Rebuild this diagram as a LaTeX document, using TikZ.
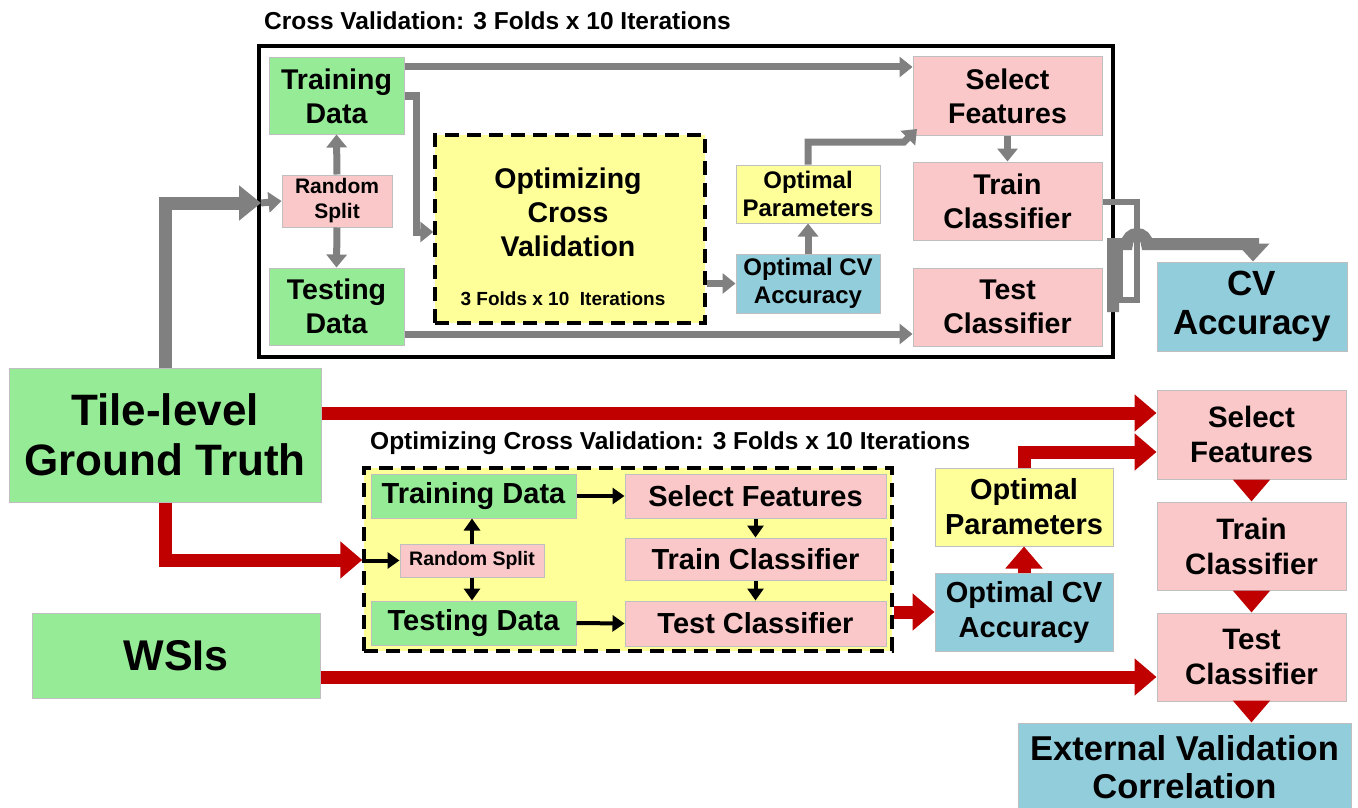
\documentclass[tikz,border=0pt]{standalone}
\usepackage{fontspec}
\setmainfont{Liberation Sans}
\usetikzlibrary{arrows.meta}
\definecolor{cgreen}{RGB}{150,236,150}
\definecolor{cpink}{RGB}{250,200,200}
\definecolor{cyellow}{RGB}{255,255,153}
\definecolor{cblue}{RGB}{146,205,220}
\definecolor{cgray}{RGB}{128,128,128}
\definecolor{cred}{RGB}{192,0,0}
\newcommand{\myf}[2]{\fontsize{#1pt}{#2pt}\selectfont\bfseries}
\begin{document}
\begin{tikzpicture}[x=1pt,y=-1pt,
  box/.style={draw=black!25, line width=1pt, inner sep=0pt, align=center},
  gbox/.style={box, fill=cgreen},
  pbox/.style={box, fill=cpink},
  ybox/.style={box, fill=cyellow},
  bbox/.style={box, fill=cblue},
  dbox/.style={draw=black, line width=3.5pt, dash pattern=on 14pt off 8pt, fill=cyellow, inner sep=0pt},
  sz/.style 2 args={minimum width=#1pt, minimum height=#2pt},
  garr/.style={draw=cgray, line width=7pt, -{Triangle[width=20pt,length=13pt]}},
  gthick/.style={draw=cgray, line width=13pt, -{Triangle[width=34pt,length=22pt]}},
  gline/.style={draw=cgray, line width=6pt},
  rarr/.style={draw=cred, line width=13pt, -{Triangle[width=36pt,length=22pt]}},
  barr/.style={draw=black, line width=4pt, -{Triangle[width=16pt,length=12pt]}},
  ttl/.style={anchor=west, inner sep=0pt, font=\myf{24.5}{28}}
]
\useasboundingbox (0,0) rectangle (1358,808);
\fill[white] (0,0) rectangle (1358,808);

% ---------- top section ----------
\node[ttl] (ttop) at (264,21) {Cross Validation: 3 Folds x 10 Iterations};
\draw[black, line width=4pt] (259,46) rectangle (1113,357);

\node[gbox, sz={135}{76}, font=\myf{28.5}{34}] (trT) at (336.5,96) {Training\\Data};
\node[pbox, sz={110}{52}, font=\myf{21}{25}] (rsT) at (337,201) {Random\\Split};
\node[gbox, sz={135}{77}, font=\myf{28.5}{34}] (teT) at (336.5,306.5) {Testing\\Data};
\node[dbox, sz={270}{188}] (ocv) at (570,229) {};
\node[inner sep=0pt, align=center, font=\myf{28.5}{34}] (ocvt) at (568,212) {Optimizing\\Cross\\Validation};
\node[inner sep=0pt, font=\myf{19}{22}] (ocvs) at (563,299) {3 Folds x 10~~Iterations};
\node[ybox, sz={144}{58}, font=\myf{24}{28}] (opT) at (808,194) {Optimal\\Parameters};
\node[bbox, sz={144}{59}, font=\myf{24}{28}] (ocT) at (808,283.5) {Optimal CV\\Accuracy};
\node[pbox, sz={189}{78}, font=\myf{28.5}{34}] (sfT) at (1007.5,96) {Select\\Features};
\node[pbox, sz={189}{78}, font=\myf{28.5}{34}] (tcT) at (1007.5,201) {Train\\Classifier};
\node[pbox, sz={189}{78}, font=\myf{28.5}{34}] (tsT) at (1007.5,307) {Test\\Classifier};
\node[bbox, sz={190}{89}, font=\myf{35}{39}] (cvA) at (1252,306.5) {CV\\Accuracy};

% gray connectors
\coordinate (inT) at (261,203);
\draw[garr] (trT.east |- 0,67) -- (sfT.west |- 0,67);
\draw[garr] (trT.east) -- (416,96) -- (416,232) -- (ocv.west |- 0,232);
\draw[garr] (rsT.north) -- (trT.south);
\draw[garr] (rsT.south) -- (teT.north);
\draw[garr] (inT) -- (rsT.west);
\draw[garr] (teT.east |- 0,334) -- (tsT.west |- 0,334);
\draw[garr] (ocv.east |- ocT) -- (ocT.west);
\draw[garr] (ocT.north) -- (opT.south);
\draw[garr] (opT.north) |- (904,142) -- (917,129);
\draw[garr] (sfT.south) -- (tcT.north);
\draw[gline] (tcT.east |- 0,202) -- (1137,202) -- (1137,300) -- (1120,300) -- (1120,244);
\draw[draw=cgray, line width=12pt, -{Triangle[width=32pt,length=18pt]}]
  (1113,312) -- (1113,244) -- (1127,244) arc[start angle=180, end angle=360, radius=10] -- (1253,244) -- (cvA.north -| 1253,0);

% ---------- bottom section ----------
\node[gbox, sz={312}{134}, font=\myf{44}{50}] (tile) at (165,435) {Tile-level\\Ground Truth};
\node[gbox, sz={288}{85}, font=\myf{43}{48}] (wsi) at (176,655.5) {WSIs};
\draw[gthick] (tile.north) -- (165,203) -- (inT);

\node[ttl] (tbot) at (370,443) {Optimizing Cross Validation: 3 Folds x 10 Iterations};
\node[dbox, sz={528}{183}] (ocvB) at (628,559.5) {};
\node[gbox, sz={205}{44}, font=\myf{29}{32}] (trB) at (473.5,496) {Training Data};
\node[pbox, sz={144}{33}, font=\myf{19.5}{22}] (rsB) at (472,560.5) {Random Split};
\node[gbox, sz={205}{44}, font=\myf{29}{32}] (teB) at (473.5,623) {Testing Data};
\node[pbox, sz={261}{44}, font=\myf{29}{32}] (sfB) at (755.5,496) {Select Features};
\node[pbox, sz={261}{42}, font=\myf{29}{32}] (tcB) at (755.5,559) {Train Classifier};
\node[pbox, sz={261}{45}, font=\myf{29}{32}] (tsB) at (755.5,623.5) {Test Classifier};

\node[ybox, sz={178}{78}, font=\myf{29}{35}] (opB) at (1024,507) {Optimal\\Parameters};
\node[bbox, sz={178}{78}, font=\myf{29}{35}] (ocB) at (1024,612) {Optimal CV\\Accuracy};
\node[pbox, sz={189}{89}, font=\myf{29.5}{35}] (sfR) at (1251.5,434.5) {Select\\Features};
\node[pbox, sz={189}{88}, font=\myf{29.5}{35}] (tcR) at (1251.5,546) {Train\\Classifier};
\node[pbox, sz={189}{88}, font=\myf{29.5}{35}] (tsR) at (1251.5,657) {Test\\Classifier};
\node[bbox, sz={333}{89}, font=\myf{34.5}{38}] (ext) at (1184.5,767.5) {External Validation\\Correlation};

% black connectors
\draw[barr] (trB.east) -- (sfB.west);
\draw[barr] (teB.east) -- (tsB.west);
\draw[barr] (rsB.north) -- (rsB.north |- trB.south);
\draw[barr] (rsB.south) -- (rsB.south |- teB.north);
\draw[barr] (ocvB.west |- rsB) -- (rsB.west);
\draw[barr] (sfB.south) -- (tcB.north);
\draw[barr] (tcB.south) -- (tsB.north);

% red connectors
\draw[rarr] (tile.east |- 0,413) -- (sfR.west |- 0,413);
\draw[rarr] (tile.south) -- (165,560) -- (ocvB.west |- 0,560);
\draw[rarr] (ocvB.east |- ocB) -- (ocB.west);
\draw[rarr] (ocB.north) -- (opB.south);
\draw[rarr] (opB.north) |- (sfR.west |- 0,452);
\draw[rarr] (wsi.east |- 0,677) -- (tsR.west |- 0,677);
\draw[rarr] (sfR.south) -- (tcR.north);
\draw[rarr] (tcR.south) -- (tsR.north);
\draw[rarr] (tsR.south) -- (tsR.south |- ext.north);
\end{tikzpicture}
\end{document}
